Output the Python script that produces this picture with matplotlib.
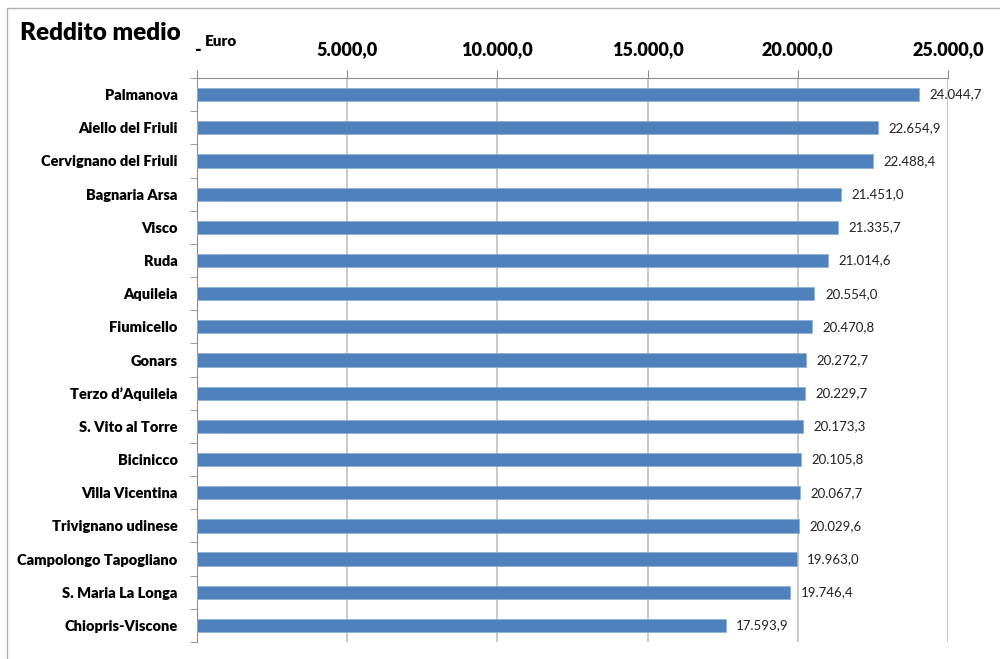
import matplotlib.pyplot as plt
from matplotlib.patches import Rectangle
from matplotlib.ticker import FuncFormatter

comuni = ["Palmanova", "Aiello del Friuli", "Cervignano del Friuli", "Bagnaria Arsa",
          "Visco", "Ruda", "Aquileia", "Fiumicello", "Gonars", "Terzo d\u2019Aquileia",
          "S. Vito al Torre", "Bicinicco", "Villa Vicentina", "Trivignano udinese",
          "Campolongo Tapogliano", "S. Maria La Longa", "Chiopris-Viscone"]
reddito = [24044.7, 22654.9, 22488.4, 21451.0, 21335.7, 21014.6, 20554.0, 20470.8,
           20272.7, 20229.7, 20173.3, 20105.8, 20067.7, 20029.6, 19963.0, 19746.4, 17593.9]
tick_euro = [0, 5000, 10000, 15000, 20000, 25000]

plt.rcParams['font.family'] = ['Lato', 'DejaVu Sans']


def it_fmt(v):
    # formato italiano: punto per le migliaia, virgola per i decimali
    s = f"{v:,.1f}"
    return s.replace(",", "X").replace(".", ",").replace("X", ".")


fig = plt.figure(figsize=(10, 6.59), dpi=100)
fig.patches.append(Rectangle((0.007, -0.1), 1.2, 1.088, transform=fig.transFigure,
                             fill=False, edgecolor='#b0b0b0', linewidth=1))

ax = fig.add_axes([0.197, 0.0258, 0.751, 0.8558])
y = range(len(comuni))
ax.barh(y, reddito, height=0.4, color='#4f81bd', edgecolor='#8fb0d8', linewidth=0.6, zorder=3)
for yi, v in zip(y, reddito):
    ax.text(v + 350, yi, it_fmt(v), va='center', ha='left', fontsize=9.5, color='#222222', zorder=4)

ax.set_xlim(0, 25000)
ax.set_ylim(len(comuni) - 0.5, -0.5)
ax.xaxis.tick_top()
ax.set_xticks(tick_euro)
ax.xaxis.set_major_formatter(FuncFormatter(lambda v, p: "-" if v == 0 else it_fmt(v)))
ax.tick_params(axis='x', direction='out', length=6, color='#8c8c8c', pad=8,
               labelsize=13)
for lab in ax.get_xticklabels():
    lab.set_fontweight('heavy')
ax.grid(axis='x', color='#c0c0c0', linewidth=1.2, zorder=0)

ax.set_yticks(y)
ax.set_yticklabels(comuni, fontweight='heavy', fontsize=10.5)
ax.set_yticks([i - 0.5 for i in range(len(comuni) + 1)], minor=True)
ax.tick_params(axis='y', which='major', length=0, pad=14)
ax.tick_params(axis='y', which='minor', direction='out', length=5, color='#8c8c8c')

for side in ['right', 'bottom']:
    ax.spines[side].set_visible(False)
ax.spines['left'].set_color('#8c8c8c')
ax.spines['top'].set_color('#8c8c8c')

fig.text(0.02, 0.95, "Reddito medio", fontsize=17.5, fontweight='heavy', va='center')
fig.text(0.205, 0.937, "Euro", fontsize=11, fontweight='heavy', va='center')

fig.savefig("out.png", dpi=100)
